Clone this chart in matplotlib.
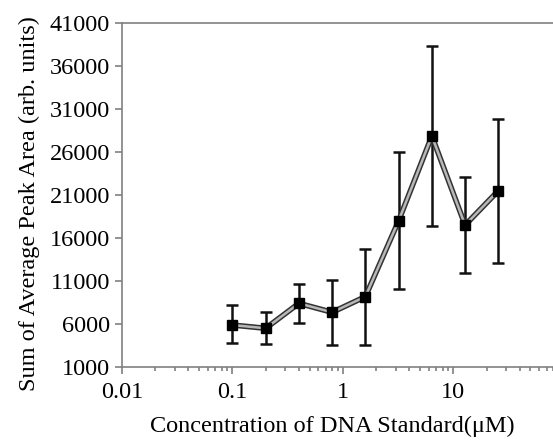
import numpy as np
import matplotlib.pyplot as plt
from matplotlib.ticker import FixedLocator, LogLocator, NullFormatter

# concentration (uM) and summed peak areas
conc = [0.1, 0.2, 0.4, 0.8, 1.6, 3.2, 6.4, 12.8, 25.6]
area = [5880, 5500, 8400, 7360, 9180, 18000, 27860, 17500, 21500]
err_hi = [8200, 7430, 10650, 11100, 14700, 26000, 38300, 23100, 29800]
err_lo = [3760, 3670, 6080, 3560, 3560, 10040, 17400, 11970, 13090]

x_ticks = [0.01, 0.1, 1, 10]
x_labels = ['0.01', '0.1', '1', '10']
y_ticks = [1000, 6000, 11000, 16000, 21000, 26000, 31000, 36000, 41000]

plt.rcParams['font.family'] = ['Liberation Serif', 'DejaVu Serif']

fig = plt.figure(figsize=(5.53, 4.45), dpi=100)
ax = fig.add_axes([0.2206, 0.1753, 0.7794, 0.773])

area = np.array(area)
yerr = [area - np.array(err_lo), np.array(err_hi) - area]

ax.errorbar(conc, area, yerr=yerr, fmt='none', ecolor='#111111',
            elinewidth=1.8, capsize=4, capthick=1.8, zorder=2)
# doubled-looking line: dark outline with grey core
ax.plot(conc, area, color='#333333', lw=4, zorder=3)
ax.plot(conc, area, color='#b8b8b8', lw=1.8, zorder=4)
ax.plot(conc, area, ls='none', marker='s', ms=7.5, color='black', zorder=5)

ax.set_xscale('log')
ax.set_xlim(0.01, 80)
ax.set_ylim(1000, 41000)
ax.xaxis.set_major_locator(FixedLocator(x_ticks))
ax.set_xticklabels(x_labels)
ax.xaxis.set_minor_locator(LogLocator(base=10, subs=np.arange(2, 10)))
ax.xaxis.set_minor_formatter(NullFormatter())
ax.set_yticks(y_ticks)

for s in ['top', 'left', 'bottom']:
    ax.spines[s].set_color('#808080')
    ax.spines[s].set_linewidth(1.2)
ax.spines['right'].set_visible(False)

ax.tick_params(axis='both', which='major', direction='out', length=5,
               width=1.2, color='#808080', labelsize=17.5, labelcolor='black')
ax.tick_params(axis='x', which='minor', direction='out', length=3,
               width=1.2, color='#808080')
ax.tick_params(axis='x', which='major', pad=6)

ax.set_xlabel('Concentration of DNA Standard(μM)', fontsize=17.5)
ax.set_ylabel('Sum of Average Peak Area (arb. units)', fontsize=17.5)
ax.xaxis.set_label_coords(0.487, -0.142)
ax.yaxis.set_label_coords(-0.19, 0.474)

fig.savefig('out.png', dpi=100)
